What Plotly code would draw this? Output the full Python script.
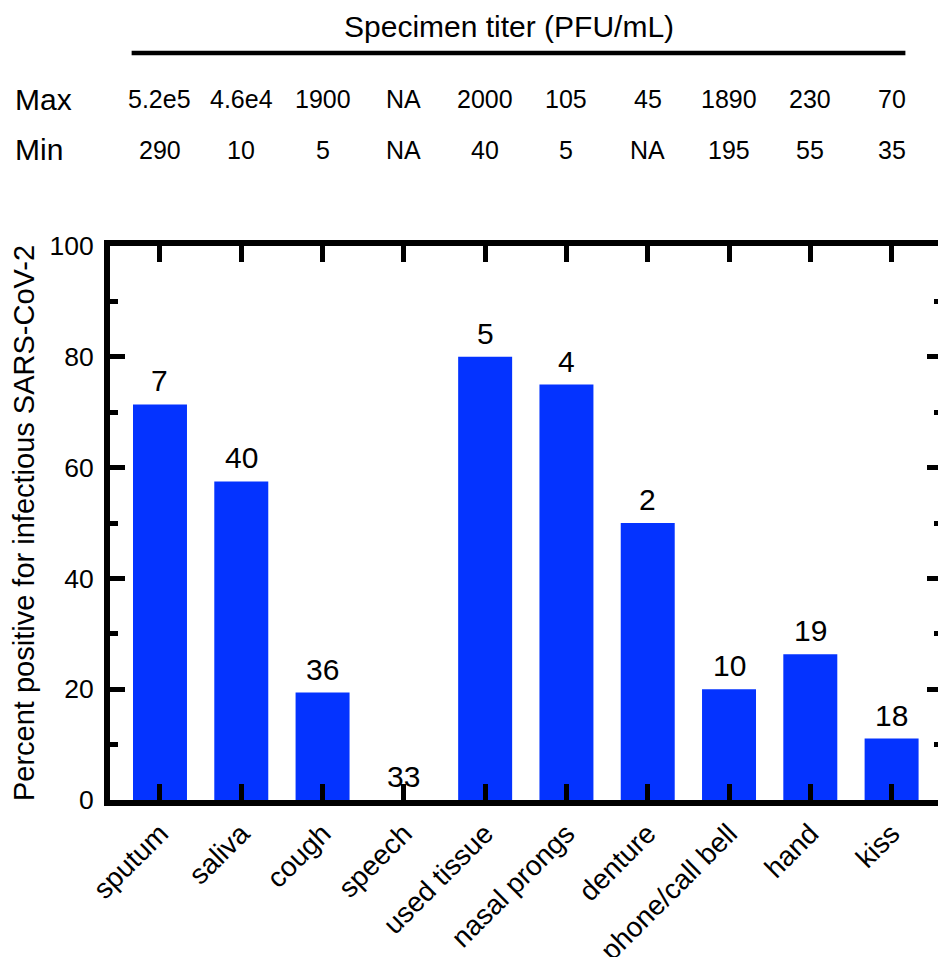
import plotly.graph_objects as go

categories = ["sputum", "saliva", "cough", "speech", "used tissue", "nasal prongs",
              "denture", "phone/call bell", "hand", "kiss"]
percent_positive = [71.4, 57.5, 19.4, 0.0, 80.0, 75.0, 50.0, 20.0, 26.3, 11.1]
n_specimens = ["7", "40", "36", "33", "5", "4", "2", "10", "19", "18"]
titer_max = ["5.2e5", "4.6e4", "1900", "NA", "2000", "105", "45", "1890", "230", "70"]
titer_min = ["290", "10", "5", "NA", "40", "5", "NA", "195", "55", "35"]

FONT = "Liberation Sans, Arial, Helvetica, sans-serif"

fig = go.Figure()
fig.add_trace(go.Bar(
    x=categories, y=percent_positive, width=0.664,
    marker=dict(color="#0433FF", line=dict(width=0)),
    showlegend=False, hoverinfo="skip",
))

ann = []
for c, v, n in zip(categories, percent_positive, n_specimens):
    ann.append(dict(x=c, y=v, xref="x", yref="y", text=n, showarrow=False,
                    yanchor="bottom", yshift=5, font=dict(size=30, color="black", family=FONT)))
for c, mx, mn in zip(categories, titer_max, titer_min):
    ann.append(dict(x=c, y=1.2653, xref="x", yref="paper", text=mx, showarrow=False,
                    yanchor="middle", font=dict(size=25, color="black", family=FONT)))
    ann.append(dict(x=c, y=1.1733, xref="x", yref="paper", text=mn, showarrow=False,
                    yanchor="middle", font=dict(size=25, color="black", family=FONT)))
ann.append(dict(x=-0.1162, y=1.2653, xref="paper", yref="paper", text="Max", showarrow=False,
                xanchor="left", yanchor="middle", font=dict(size=30, color="black", family=FONT)))
ann.append(dict(x=-0.1162, y=1.1733, xref="paper", yref="paper", text="Min", showarrow=False,
                xanchor="left", yanchor="middle", font=dict(size=30, color="black", family=FONT)))
ann.append(dict(x=0.4796, y=1.397, xref="paper", yref="paper", text="Specimen titer (PFU/mL)",
                showarrow=False, xanchor="center", yanchor="middle",
                font=dict(size=30, color="black", family=FONT)))

fig.add_shape(type="line", xref="paper", yref="paper", x0=0.026, x1=0.956, y0=1.3484, y1=1.3484,
              line=dict(color="black", width=4.5))

fig.update_layout(
    width=938, height=949,
    margin=dict(l=102, r=4, t=238, b=157, autoexpand=False),
    paper_bgcolor="white", plot_bgcolor="white",
    font=dict(family=FONT, size=27, color="black"),
    annotations=ann,
)
fig.update_xaxes(
    range=[-0.615, 9.62], showline=True, linewidth=6, linecolor="black", mirror="ticks",
    ticks="inside", ticklen=16, tickwidth=5, tickcolor="black", tickangle=-45,
    tickfont=dict(size=28, family=FONT), showgrid=False, zeroline=False, automargin=False,
)
fig.update_yaxes(
    range=[0, 100], tickvals=[0, 20, 40, 60, 80, 100], showline=True, linewidth=6,
    linecolor="black", mirror="ticks", ticks="inside", ticklen=15, tickwidth=5,
    tickcolor="black", tickfont=dict(size=26.5, family=FONT), showgrid=False, zeroline=False,
    ticklabelstandoff=5, automargin=False,
    minor=dict(tickvals=[10, 30, 50, 70, 90], ticks="inside", ticklen=8, tickwidth=5,
               tickcolor="black", showgrid=False),
    title=dict(text="Percent positive for infectious SARS-CoV-2", font=dict(size=29, family=FONT),
               standoff=14),
)

fig.write_html("out.html")
